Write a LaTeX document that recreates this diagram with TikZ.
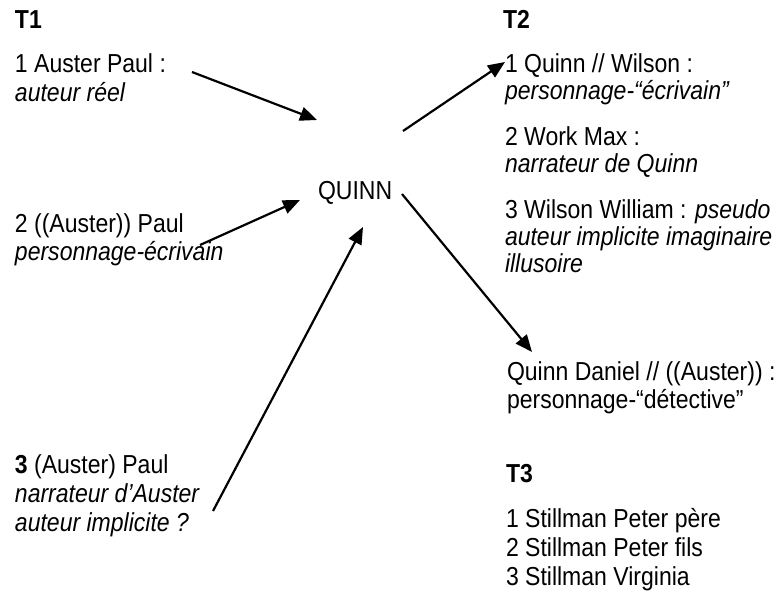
\documentclass[tikz,border=0pt]{standalone}
\usepackage{fontspec}
\setmainfont{Liberation Sans}[FakeStretch=0.885]
\usetikzlibrary{arrows.meta}
\begin{document}
\begin{tikzpicture}[x=1pt,y=-1pt,
  txt/.style={anchor=base west,inner sep=0pt,outer sep=0pt,font=\fontsize{26}{28}\selectfont},
  hd/.style={txt,font=\fontsize{26}{28}\selectfont\bfseries},
  arr/.style={line width=2.2pt,-{Triangle[length=17pt,width=14pt]}}]
\path[use as bounding box,fill=white] (0,0) rectangle (777,597);
% T1
\node[hd] (t1) at (15,28) {T1};
\node[txt] (a1) at (15,72) {1 Auster Paul :};
\node[txt] (a1b) at (15,101) {\itshape auteur réel};
\node[txt] (a2) at (15,232) {2 ((Auster)) Paul};
\node[txt] (a2b) at (15,260) {\itshape personnage-écrivain};
\node[txt] (a3) at (15,473) {\textbf{3} (Auster) Paul};
\node[txt] (a3b) at (15,502) {\itshape narrateur d’Auster};
\node[txt] (a3c) at (15,531) {\itshape auteur implicite ?};
% centre
\node[txt] (q) at (318,199) {QUINN};
% T2
\node[hd] (t2) at (503,28) {T2};
\node[txt] (b1) at (505,72) {1 Quinn // Wilson :};
\node[txt] (b1b) at (505,99) {\itshape personnage-“écrivain”};
\node[txt] (b2) at (505,145) {2 Work Max :};
\node[txt] (b2b) at (505,172) {\itshape narrateur de Quinn};
\node[txt] (b3) at (505,218) {3 Wilson William : \itshape pseudo};
\node[txt] (b3b) at (505,245) {\itshape auteur implicite imaginaire};
\node[txt] (b3c) at (505,272) {\itshape illusoire};
\node[txt] (d1) at (507,380) {Quinn Daniel // ((Auster)) :};
\node[txt] (d1b) at (507,408) {personnage-“détective”};
% T3
\node[hd] (t3) at (506,482) {T3};
\node[txt] (c1) at (506,527) {1 Stillman Peter père};
\node[txt] (c2) at (506,556) {2 Stillman Peter fils};
\node[txt] (c3) at (506,585) {3 Stillman Virginia};
% connector ends
\coordinate (s1) at (192,72);
\coordinate (e1) at (317,120);
\coordinate (s2) at (200,245);
\coordinate (e2) at (300,200);
\coordinate (s3) at (213,511);
\coordinate (e3) at (363,227);
\coordinate (s4) at (403,131);
\coordinate (e4) at (505,62);
\coordinate (s5) at (402,194);
\coordinate (e5) at (532,352);
\draw[arr] (s1) -- (e1);
\draw[arr] (s2) -- (e2);
\draw[arr] (s3) -- (e3);
\draw[arr] (s4) -- (e4);
\draw[arr] (s5) -- (e5);
\end{tikzpicture}
\end{document}
